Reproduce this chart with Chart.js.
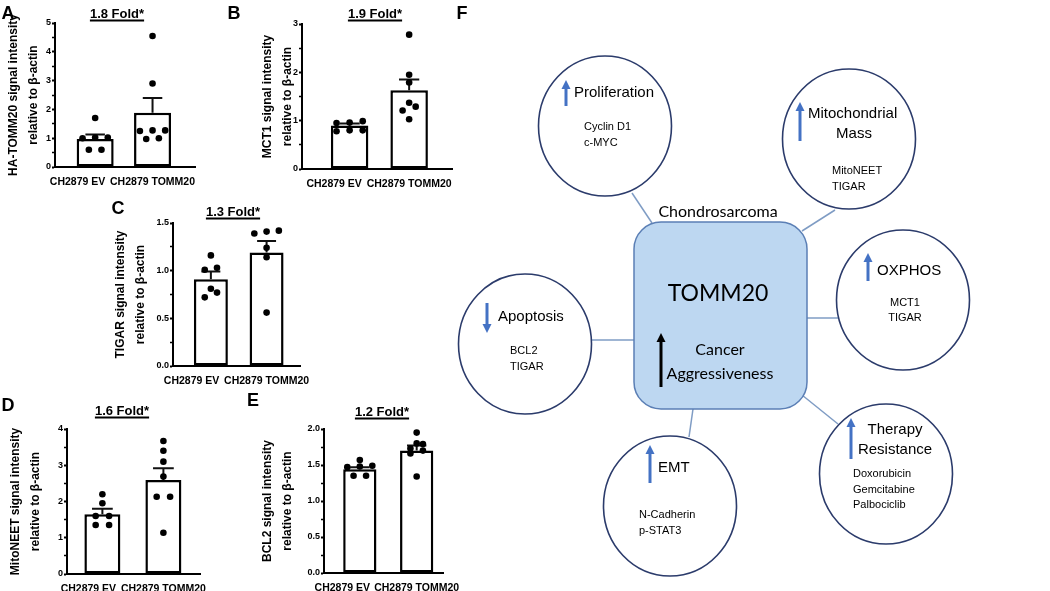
<!DOCTYPE html>
<html>
<head>
<meta charset="utf-8">
<script src="https://cdn.jsdelivr.net/npm/chart.js@4.4.1/dist/chart.umd.min.js"></script>
<style>
html, body { margin: 0; padding: 0; background: #fff; }
body { width: 1050px; height: 591px; position: relative; overflow: hidden; font-family: "Liberation Sans", Arial, sans-serif; }
canvas { position: absolute; }
.lbl { position: absolute; transform: translate(-50%, -50%); font-weight: bold; white-space: nowrap; color: #000; }
.panel { font-size: 18px; }
.fold { font-size: 13px; text-decoration: underline; text-underline-offset: 2px; text-decoration-thickness: 1.5px; }
#diagram { position: absolute; left: 0; top: 0; }
</style>
</head>
<body>
<canvas id="chartA"></canvas>
<canvas id="chartB"></canvas>
<canvas id="chartC"></canvas>
<canvas id="chartD"></canvas>
<canvas id="chartE"></canvas>
<svg id="diagram" width="1050" height="591"></svg>
<script>
// Nilai
const groups = ["CH2879 EV", "CH2879 TOMM20"];

// A - HA-TOMM20
const tommEv = [1.7, 1.02, 1.0, 1.02, 0.6, 0.6];
const tommTomm = [4.55, 2.9, 1.27, 1.27, 1.25, 0.97, 1.0];
const tommMean = [0.97, 1.88];
const tommSem = [0.16, 0.52];

// B - MCT1
const mct1Ev = [0.95, 0.99, 0.96, 0.78, 0.8, 0.8];
const mct1Tomm = [2.78, 1.95, 1.79, 1.37, 1.29, 1.21, 1.03];
const mct1Mean = [0.9, 1.63];
const mct1Sem = [0.04, 0.22];

// C - TIGAR
const tigarEv = [1.16, 1.03, 1.01, 0.81, 0.77, 0.72];
const tigarTomm = [1.42, 1.39, 1.41, 1.24, 1.14, 0.56];
const tigarMean = [0.91, 1.19];
const tigarSem = [0.08, 0.12];

// D - MitoNEET
const mitoEv = [2.2, 1.95, 1.6, 1.6, 1.35, 1.35];
const mitoTomm = [3.67, 3.4, 3.1, 2.69, 2.13, 2.13, 1.14];
const mitoMean = [1.65, 2.59];
const mitoSem = [0.15, 0.33];

// E - BCL2
const bcl2Ev = [1.57, 1.49, 1.47, 1.48, 1.35, 1.35];
const bcl2Tomm = [1.95, 1.79, 1.8, 1.73, 1.7, 1.66, 1.34];
const bcl2Mean = [1.44, 1.7];
const bcl2Sem = [0.03, 0.07];

const yMaxes = [5, 3, 1.5, 4, 2];
const yMajor = [1, 1, 0.5, 1, 0.5];
const foldText = ["1.8 Fold*", "1.9 Fold*", "1.3 Fold*", "1.6 Fold*", "1.2 Fold*"];

Chart.defaults.font.family = "'Liberation Sans', Arial, sans-serif";
Chart.defaults.color = "#000";

// Sebar titik yang nilainya berdekatan (mirip scatter GraphPad)
function swarm(values, idx, tol) {
    const order = values.map((v, i) => i).sort((a, b) => values[a] - values[b]);
    const pts = [];
    let i = 0;
    while (i < order.length) {
        let j = i;
        while (j + 1 < order.length && values[order[j + 1]] - values[order[i]] < tol) j++;
        const k = j - i + 1;
        for (let m = 0; m < k; m++) {
            pts.push({ x: idx + (m - (k - 1) / 2) * 0.22, y: values[order[i + m]] });
        }
        i = j + 1;
    }
    return pts;
}

// Garis SEM di atas batang
const errorBarPlugin = {
    id: "errorBars",
    afterDatasetDraw(chart, args, opts) {
        if (args.index !== 0) return;
        const { ctx, scales: { x, y } } = chart;
        ctx.save();
        ctx.strokeStyle = "#111";
        ctx.lineWidth = 2;
        opts.means.forEach((m, i) => {
            const px = x.getPixelForValue(i);
            const y0 = y.getPixelForValue(m);
            const y1 = y.getPixelForValue(m + opts.sems[i]);
            const cap = Math.abs(x.getPixelForValue(i + 0.17) - px);
            ctx.beginPath();
            ctx.moveTo(px, y0);
            ctx.lineTo(px, y1);
            ctx.moveTo(px - cap, y1);
            ctx.lineTo(px + cap, y1);
            ctx.stroke();
        });
        ctx.restore();
    },
};

const panels = [
    { id: "chartA", ev: tommEv, tomm: tommTomm, mean: tommMean, sem: tommSem,
      title: ["HA-TOMM20 signal intensity", "relative to β-actin"],
      box: { left: 3, axis: 55, right: 195, top: 23, bottom: 167, xMin: -0.7, xMax: 1.74, bar: 0.645 },
      letter: ["A", 8, 13], fold: [117, 13] },
    { id: "chartB", ev: mct1Ev, tomm: mct1Tomm, mean: mct1Mean, sem: mct1Sem,
      title: ["MCT1 signal intensity", "relative to β-actin"],
      box: { left: 257, axis: 302, right: 452, top: 24, bottom: 169, xMin: -0.8, xMax: 1.72, bar: 0.63 },
      letter: ["B", 234, 13], fold: [375, 13] },
    { id: "chartC", ev: tigarEv, tomm: tigarTomm, mean: tigarMean, sem: tigarSem,
      title: ["TIGAR signal intensity", "relative to β-actin"],
      box: { left: 110, axis: 173, right: 300, top: 223, bottom: 366, xMin: -0.68, xMax: 1.6, bar: 0.61 },
      letter: ["C", 118, 208], fold: [233, 211] },
    { id: "chartD", ev: mitoEv, tomm: mitoTomm, mean: mitoMean, sem: mitoSem,
      title: ["MitoNEET signal intensity", "relative to β-actin"],
      box: { left: 5, axis: 67, right: 200, top: 429, bottom: 574, xMin: -0.58, xMax: 1.6, bar: 0.59 },
      letter: ["D", 8, 405], fold: [122, 410] },
    { id: "chartE", ev: bcl2Ev, tomm: bcl2Tomm, mean: bcl2Mean, sem: bcl2Sem,
      title: ["BCL2 signal intensity", "relative to β-actin"],
      box: { left: 257, axis: 324, right: 445, top: 429, bottom: 573, xMin: -0.63, xMax: 1.48, bar: 0.585 },
      letter: ["E", 253, 400], fold: [382, 411] },
];

const PAD_TOP = 8, PAD_RIGHT = 30, X_H = 24;
// label EV digeser ke kiri supaya tidak menabrak label TOMM20 (seperti GraphPad)
const LABEL_SHIFT_PX = 75;

panels.forEach((p, n) => {
    const b = p.box;
    const cv = document.getElementById(p.id);
    const cy = b.top - PAD_TOP;
    cv.width = b.right + PAD_RIGHT - b.left;
    cv.height = b.bottom + X_H - cy;
    cv.style.left = b.left + "px";
    cv.style.top = cy + "px";

    const yMax = yMaxes[n];
    const major = yMajor[n];
    const digits = major < 1 ? 1 : 0;
    const isMajor = (v) => Math.abs(v / major - Math.round(v / major)) < 1e-6;
    const tol = yMax * 0.035;
    const pxPerUnit = (b.right - b.axis) / (b.xMax - b.xMin);
    const evTick = 1 - LABEL_SHIFT_PX / pxPerUnit;

    new Chart(cv.getContext("2d"), {
        type: "bar",
        data: {
            datasets: [
                {
                    type: "bar",
                    data: p.mean.map((m, i) => ({ x: i, y: m })),
                    backgroundColor: "#fff",
                    borderColor: "#000",
                    borderWidth: 2.5,
                    borderSkipped: false,
                    categoryPercentage: 1,
                    barPercentage: b.bar,
                    order: 2,
                },
                {
                    type: "scatter",
                    data: swarm(p.ev, 0, tol).concat(swarm(p.tomm, 1, tol)),
                    backgroundColor: "#000",
                    borderWidth: 0,
                    pointRadius: 3.3,
                    order: 1,
                },
            ],
        },
        options: {
            responsive: false,
            animation: false,
            devicePixelRatio: 1,
            layout: { autoPadding: false, padding: { left: 0, top: PAD_TOP, right: PAD_RIGHT, bottom: 0 } },
            plugins: {
                legend: { display: false },
                tooltip: { enabled: false },
                errorBars: { means: p.mean, sems: p.sem },
            },
            scales: {
                x: {
                    type: "linear",
                    min: b.xMin,
                    max: b.xMax,
                    offset: false,
                    afterBuildTicks: (s) => { s.ticks = [{ value: evTick }, { value: 1 }]; },
                    afterFit: (s) => { s.height = X_H; },
                    ticks: {
                        autoSkip: false,
                        maxRotation: 0,
                        padding: 9,
                        font: { size: 10.5, weight: "bold" },
                        callback: (v, i) => groups[i],
                    },
                    grid: { display: false, drawTicks: false, offset: false },
                    border: { display: true, color: "#000", width: 2 },
                },
                y: {
                    min: 0,
                    max: yMax,
                    afterFit: (s) => { s.width = b.axis - b.left; },
                    ticks: {
                        stepSize: major / 2,
                        padding: 1,
                        font: { size: 9, weight: "bold" },
                        callback: (v) => (isMajor(v) ? v.toFixed(digits) : ""),
                    },
                    grid: {
                        drawOnChartArea: false,
                        drawTicks: true,
                        tickLength: 3,
                        tickColor: "#000",
                        tickWidth: (ctx) => (ctx.tick && isMajor(ctx.tick.value) ? 2 : 1.5),
                    },
                    border: { display: true, color: "#000", width: 2 },
                    title: {
                        display: true,
                        text: p.title,
                        padding: 0,
                        font: { size: 12, weight: "bold", lineHeight: 1.7 },
                    },
                },
            },
        },
        plugins: [errorBarPlugin],
    });

    // Huruf panel dan judul fold
    const letter = document.createElement("div");
    letter.className = "lbl panel";
    letter.textContent = p.letter[0];
    letter.style.left = p.letter[1] + "px";
    letter.style.top = p.letter[2] + "px";
    document.body.appendChild(letter);

    const fold = document.createElement("div");
    fold.className = "lbl fold";
    fold.textContent = foldText[n];
    fold.style.left = p.fold[0] + "px";
    fold.style.top = p.fold[1] + "px";
    document.body.appendChild(fold);
});

// Panel F - diagram
const svgNS = "http://www.w3.org/2000/svg";
const svg = document.getElementById("diagram");

function el(tag, attrs, text) {
    const e = document.createElementNS(svgNS, tag);
    for (const k in attrs) e.setAttribute(k, attrs[k]);
    if (text) e.textContent = text;
    svg.appendChild(e);
    return e;
}

function teks(x, y, str, size, anchor, family) {
    return el("text", {
        x: x, y: y, "font-size": size, "text-anchor": anchor || "start",
        "dominant-baseline": "central", fill: "#000",
        "font-family": family || "'Liberation Sans', Arial, sans-serif",
    }, str);
}

function panah(x, yTip, yEnd, color) {
    const dir = yEnd > yTip ? 1 : -1;
    el("line", { x1: x, y1: yTip + dir * 7, x2: x, y2: yEnd, stroke: color, "stroke-width": 3 });
    el("polygon", {
        points: `${x - 4.5},${yTip + dir * 9} ${x},${yTip} ${x + 4.5},${yTip + dir * 9}`,
        fill: color,
    });
}

const garis = "#7f9cc4";
[[632, 193, 652, 223], [835, 210, 802, 231], [807, 318, 838, 318],
 [592, 340, 634, 340], [693, 409, 689, 437], [802, 395, 838, 424]].forEach((l) => {
    el("line", { x1: l[0], y1: l[1], x2: l[2], y2: l[3], stroke: garis, "stroke-width": 1.5 });
});

el("rect", { x: 634, y: 222, width: 173, height: 187, rx: 27, ry: 27,
    fill: "#bdd7f1", stroke: "#5b7fb5", "stroke-width": 1.5 });

const circles = [[605, 126], [849, 139], [903, 300], [525, 344], [670, 506], [886, 474]];
circles.forEach((c) => {
    el("ellipse", { cx: c[0], cy: c[1], rx: 66.5, ry: 70, fill: "#fff", stroke: "#2b3b6b", "stroke-width": 1.6 });
});

const biru = "#4472c4";
panah(566, 80, 106, biru);
panah(800, 102, 141, biru);
panah(868, 253, 281, biru);
panah(487, 333, 303, biru);
panah(650, 445, 483, biru);
panah(851, 418, 459, biru);
panah(661, 333, 387, "#000");

const lato = "Lato, 'Open Sans', sans-serif";
teks(462, 13, "F", 18, "middle").setAttribute("font-weight", "bold");
teks(718, 210, "Chondrosarcoma", 16, "middle", lato);
teks(718, 292, "TOMM20", 23, "middle", lato);
teks(720, 348, "Cancer", 16, "middle", lato);
teks(720, 372, "Aggressiveness", 16, "middle", lato);

teks(574, 91, "Proliferation", 15);
teks(584, 126, "Cyclin D1", 11);
teks(584, 142, "c-MYC", 11);

teks(808, 112, "Mitochondrial", 15);
teks(854, 132, "Mass", 15, "middle");
teks(832, 170, "MitoNEET", 11);
teks(832, 186, "TIGAR", 11);

teks(877, 269, "OXPHOS", 15);
teks(905, 302, "MCT1", 11, "middle");
teks(905, 317, "TIGAR", 11, "middle");

teks(498, 315, "Apoptosis", 15);
teks(510, 350, "BCL2", 11);
teks(510, 366, "TIGAR", 11);

teks(658, 466, "EMT", 15);
teks(639, 514, "N-Cadherin", 11);
teks(639, 530, "p-STAT3", 11);

teks(895, 428, "Therapy", 15, "middle");
teks(895, 448, "Resistance", 15, "middle");
teks(853, 473, "Doxorubicin", 11);
teks(853, 489, "Gemcitabine", 11);
teks(853, 504, "Palbociclib", 11);
</script>
</body>
</html>
